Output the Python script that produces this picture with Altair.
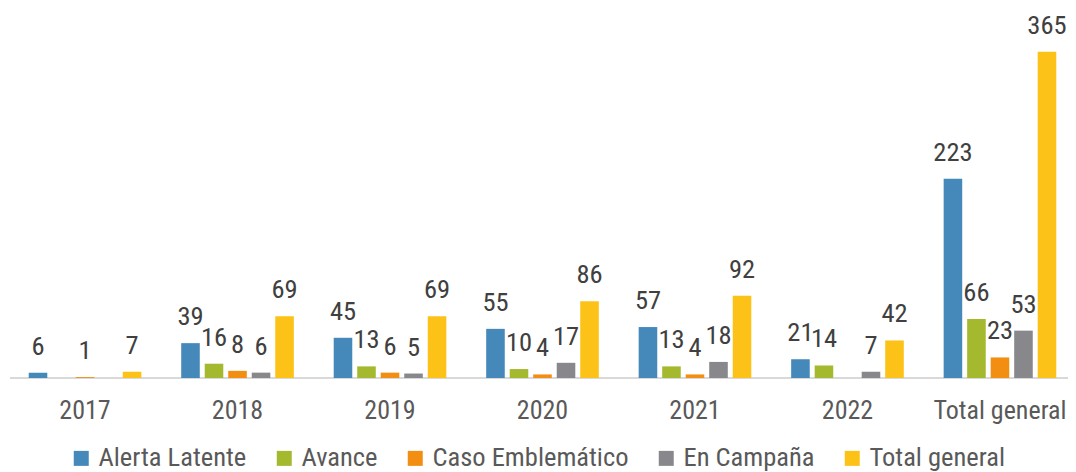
import altair as alt
import pandas as pd

categories = ["2017", "2018", "2019", "2020", "2021", "2022", "Total general"]
series = ["Alerta Latente", "Avance", "Caso Emblemático", "En Campaña", "Total general"]
colors = ["#4589BB", "#A5B92F", "#F28E12", "#88878C", "#FDC217"]

alerta = [6, 39, 45, 55, 57, 21, 223]
avance = [None, 16, 13, 10, 13, 14, 66]
caso = [1, 8, 6, 4, 4, None, 23]
campana = [None, 6, 5, 17, 18, 7, 53]
total = [7, 69, 69, 86, 92, 42, 365]

rows = []
for s, vals in zip(series, [alerta, avance, caso, campana, total]):
    for c, v in zip(categories, vals):
        if v is not None:
            rows.append({"cat": c, "serie": s, "valor": v})
df = pd.DataFrame(rows)

FONT = "Roboto Condensed, Liberation Sans Narrow, Roboto, sans-serif"
W, H = 1051, 370

x = alt.X("cat:N", sort=categories, title=None,
          scale=alt.Scale(domain=categories, paddingInner=0.229, paddingOuter=0.0607),
          axis=alt.Axis(labelAngle=0, ticks=False, domain=False,
                        labelFont=FONT, labelFontSize=26, labelColor="#595959",
                        labelPadding=19))
xo = alt.XOffset("serie:N", sort=series,
                 scale=alt.Scale(domain=series, paddingInner=0.21, paddingOuter=0.105))
y = alt.Y("valor:Q", scale=alt.Scale(domain=[0, 414], nice=False), axis=None)

bars = alt.Chart(df).mark_bar().encode(
    x=x, xOffset=xo, y=y,
    color=alt.Color("serie:N", sort=series,
                    scale=alt.Scale(domain=series, range=colors),
                    legend=alt.Legend(title=None, orient="none", direction="horizontal",
                                      legendX=51, legendY=437, padding=0,
                                      labelFont=FONT, labelFontSize=26.5, labelColor="#595959",
                                      symbolType="square", symbolSize=225, symbolStrokeWidth=0,
                                      columnPadding=24, labelOffset=4,
                                      labelLimit=300)),
)

labels = alt.Chart(df).mark_text(baseline="alphabetic", dy=-18, font=FONT, fontSize=26.5,
                                 color="#404040").encode(
    x=x, xOffset=xo, y=y, text="valor:Q")

baseline = alt.Chart(pd.DataFrame({"v": [0]})).mark_rule(color="#D9D9D9", strokeWidth=2).encode(
    y=alt.Y("v:Q", scale=alt.Scale(domain=[0, 414], nice=False), axis=None),
    x=alt.value(-7), x2=alt.value(W + 2),
)

chart = (baseline + bars + labels).properties(
    width=W, height=H,
    autosize=alt.AutoSizeParams(type="none"),
    padding={"left": 9, "top": 0, "right": 0, "bottom": 94},
).configure_view(stroke=None)

chart.save("out.html", embed_options={"renderer": "svg", "actions": False})
